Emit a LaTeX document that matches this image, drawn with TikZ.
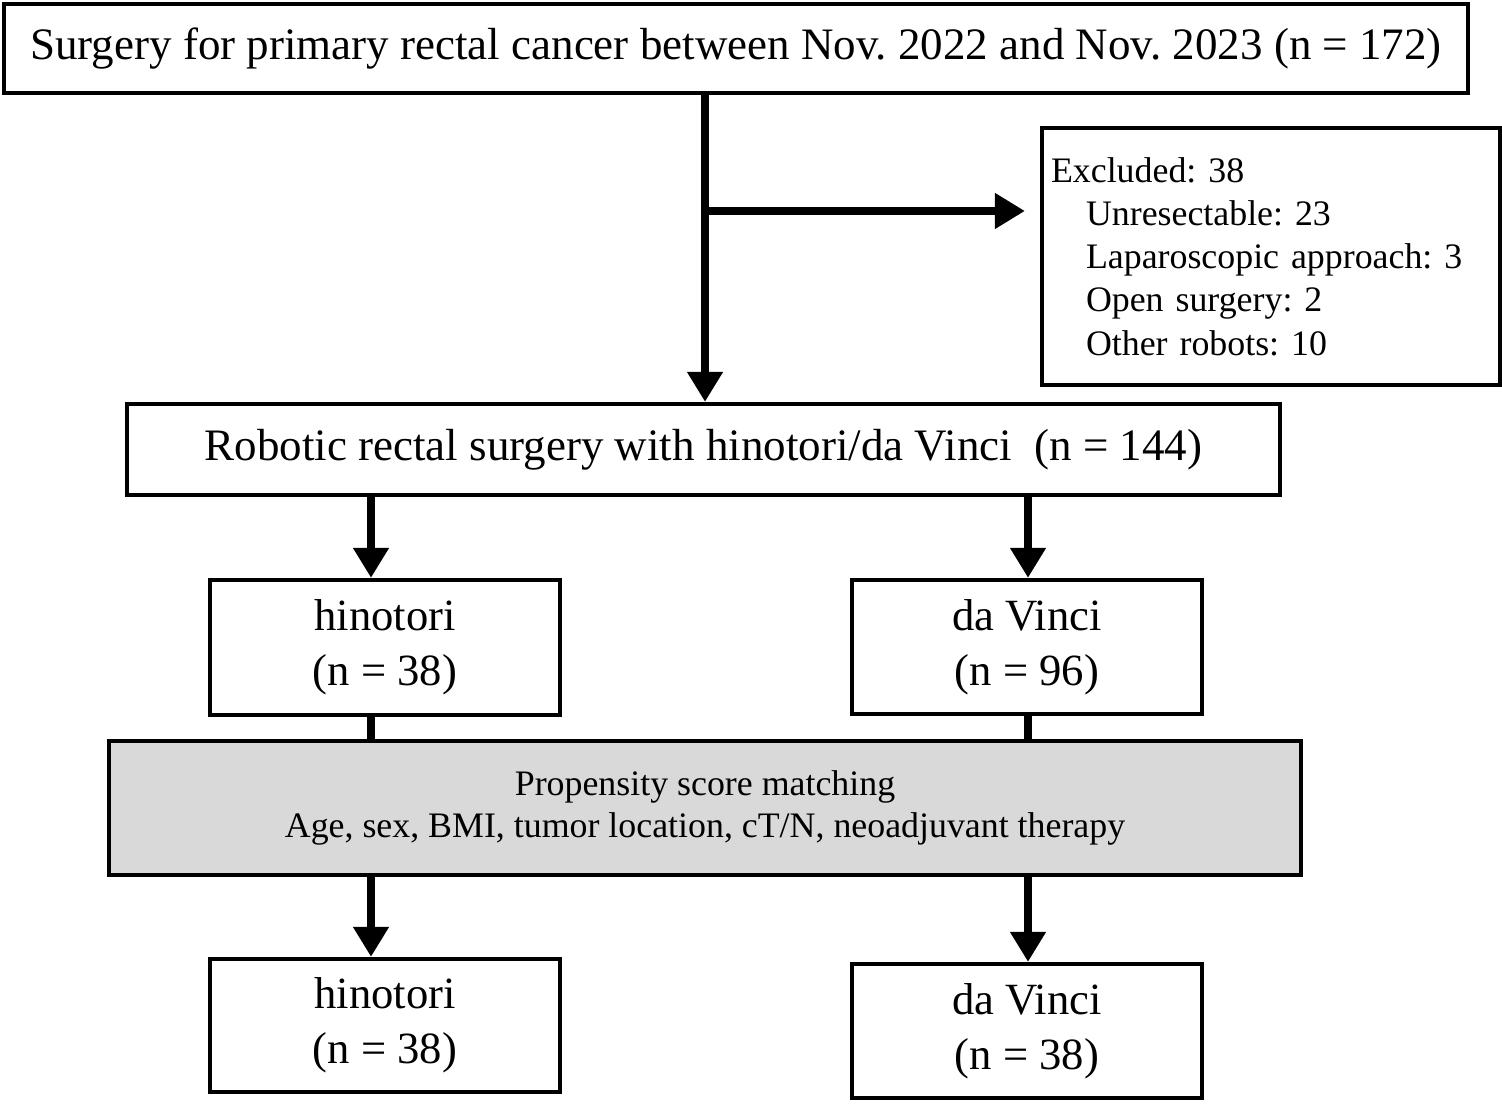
\documentclass[tikz,border=0pt]{standalone}
\usepackage{fontspec}
\setmainfont{Liberation Serif}
\usetikzlibrary{arrows.meta}
\frenchspacing

\begin{document}
\begin{tikzpicture}
    % Define the style for the nodes
    \tikzstyle{box} = [rectangle, draw, line width=1.2pt, inner sep=0pt, align=center]
    \tikzstyle{line} = [draw, line width=2.2pt, -{Triangle[length=0.3cm,width=0.34cm]}]
    \tikzstyle{bar} = [draw, line width=2.2pt]
    \useasboundingbox (0,0) rectangle (15.02,-11.04);

    % Place the nodes
    \node [box, minimum width=14.64cm, minimum height=0.89cm, font=\fontsize{12.8}{16}\selectfont] (surgery) at (7.36,-0.485) {Surgery for primary rectal cancer between Nov. 2022 and Nov. 2023 (n = 172)};
    \node [box, minimum width=4.58cm, minimum height=2.57cm, align=left, text width=4.4cm, inner xsep=0.09cm, font=\fontsize{10.2}{12.3}\selectfont] (excluded) at (12.71,-2.565) {Excluded: 38\\\hspace*{0.35cm}Unresectable: 23\\\hspace*{0.35cm}Laparoscopic approach: 3\\\hspace*{0.35cm}Open surgery: 2\\\hspace*{0.35cm}Other robots: 10};
    \node [box, minimum width=11.53cm, minimum height=0.91cm, font=\fontsize{12.8}{16}\selectfont] (robotic) at (7.035,-4.495) {Robotic rectal surgery with hinotori/da Vinci\ \ (n = 144)};
    \node [box, minimum width=3.5cm, minimum height=1.35cm, font=\fontsize{12.7}{15.6}\selectfont] (hinotori) at (3.85,-6.475) {hinotori\\(n = 38)};
    \node [box, minimum width=3.5cm, minimum height=1.34cm, font=\fontsize{12.7}{15.6}\selectfont] (davinci) at (10.27,-6.47) {da Vinci\\(n = 96)};
    \node [box, fill=black!15, minimum width=11.92cm, minimum height=1.34cm, font=\fontsize{10.2}{12}\selectfont] (psm) at (7.05,-8.08) {Propensity score matching\\Age, sex, BMI, tumor location, cT/N, neoadjuvant therapy};
    \node [box, minimum width=3.5cm, minimum height=1.33cm, font=\fontsize{12.7}{15.6}\selectfont] (hinotorim) at (3.85,-10.255) {hinotori\\(n = 38)};
    \node [box, minimum width=3.5cm, minimum height=1.34cm, font=\fontsize{12.7}{15.6}\selectfont] (davincim) at (10.27,-10.31) {da Vinci\\(n = 38)};
    \coordinate (branch) at (7.05,-2.11);

    % Connect the nodes with paths
    \path [line] (surgery.south -| branch) -- (robotic.north -| branch);
    \path [line, shorten >=0.15cm] (branch) -- (branch -| excluded.west);
    \path [line] (robotic.south -| 3.71,0) -- (hinotori.north -| 3.71,0);
    \path [line] (robotic.south -| 10.28,0) -- (davinci.north -| 10.28,0);
    \path [bar] (hinotori.south -| 3.71,0) -- (psm.north -| 3.71,0);
    \path [bar] (davinci.south -| 10.28,0) -- (psm.north -| 10.28,0);
    \path [line] (psm.south -| 3.71,0) -- (hinotorim.north -| 3.71,0);
    \path [line] (psm.south -| 10.28,0) -- (davincim.north -| 10.28,0);
\end{tikzpicture}
\end{document}
